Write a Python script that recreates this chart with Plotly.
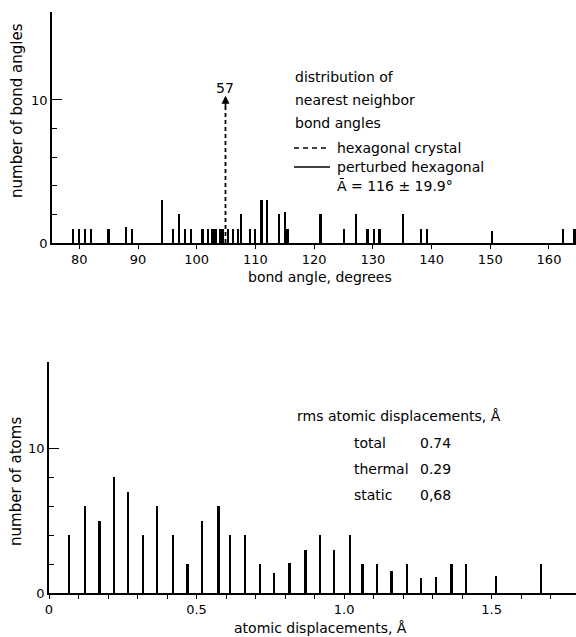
import plotly.graph_objects as go

# ---- data: bond angle distribution (top panel) ----
bond_angles = [79, 80, 81, 82, 85, 88, 89, 94, 96, 97, 98, 99,
               101, 101.9, 102.7, 102.95, 103.2, 103.9, 104.15, 104.4, 105.4,
               106.1, 107, 107.5, 109.1, 110, 111.1, 112, 114, 115, 115.5,
               121.1, 125.1, 127.1, 129.1, 130.2, 131.2, 135.2, 138.2, 139.2,
               150.3, 162.4, 164.4]
bond_counts = [1, 1, 1, 1, 1, 1.15, 1, 3, 1, 2, 1, 1,
               1, 1, 1, 1, 1, 1, 1, 1, 1,
               1, 1, 2, 1, 1, 3, 3, 2, 2.15, 1,
               2, 1, 2, 1, 1, 1, 2, 1, 1,
               0.85, 1, 1]
hex_angle = [104.9]
hex_count = [57]
hex_arrow_top = 10.3
bond_ticks = [80, 90, 100, 110, 120, 130, 140, 150, 160]

# ---- data: atomic displacement distribution (bottom panel) ----
displacements = [0.068, 0.122, 0.172, 0.220, 0.268, 0.320, 0.366, 0.420, 0.470,
                 0.520, 0.575, 0.615, 0.665, 0.715, 0.763, 0.816, 0.870, 0.919,
                 0.967, 1.020, 1.063, 1.112, 1.162, 1.213, 1.261, 1.312, 1.365,
                 1.414, 1.515, 1.668]
atom_counts = [4, 6, 5, 8, 7, 4, 6, 4, 2,
               5, 6, 4, 4, 2, 1.35, 2.1, 3, 4,
               3, 4, 2, 2, 1.5, 2, 1.05, 1.1, 2,
               2, 1.2, 2]
disp_ticks = [0, 0.5, 1.0, 1.5]
disp_ticktext = ["0", "0.5", "1.0", "1.5"]
disp_minor = [0.1, 0.2, 0.3, 0.4, 0.6, 0.7, 0.8, 0.9, 1.1, 1.2, 1.3, 1.4, 1.6, 1.7]
rms_labels = ["total", "thermal", "static"]
rms_values = ["0.74", "0.29", "0,68"]

W, H = 576, 637
FONT = "DejaVu Sans"
def px(x):
    return x / W
def py(y):
    return 1 - y / H

fig = go.Figure()
fig.add_trace(go.Bar(x=bond_angles, y=bond_counts, width=0.34,
                     marker=dict(color="black", line=dict(width=0)),
                     xaxis="x", yaxis="y", showlegend=False, cliponaxis=False))
fig.add_trace(go.Scatter(x=hex_angle * 2, y=[0, hex_arrow_top - 0.3], mode="lines",
                         line=dict(color="black", width=1.8, dash="4px,3px"),
                         xaxis="x", yaxis="y", showlegend=False))
fig.add_trace(go.Bar(x=displacements, y=atom_counts, width=0.0062,
                     marker=dict(color="black", line=dict(width=0)),
                     xaxis="x2", yaxis="y2", showlegend=False))

axis_common = dict(showgrid=False, zeroline=False, showline=True, linecolor="black",
                   linewidth=1.5, tickcolor="black", automargin=False,
                   tickfont=dict(family=FONT, size=13, color="black"))

fig.update_layout(
    width=W, height=H, margin=dict(l=0, r=0, t=0, b=0),
    paper_bgcolor="white", plot_bgcolor="white", bargap=0,
    xaxis=dict(domain=[px(52), 1], range=[75.35, 164.6], anchor="y",
               tickvals=bond_ticks, ticks="outside", ticklen=4, tickwidth=1.2,
               **axis_common),
    yaxis=dict(domain=[py(243), py(12)], range=[0, 16.15], anchor="x",
               tickvals=[0, 10], ticks="inside", ticklen=10, tickwidth=1.2,
               minor=dict(tickvals=[2, 4, 6, 8], ticks="inside", ticklen=5,
                          tickcolor="black", tickwidth=1),
               **axis_common),
    xaxis2=dict(domain=[px(49), 1], range=[0, 1.786], anchor="y2",
                tickvals=disp_ticks, ticktext=disp_ticktext, ticks="outside",
                ticklen=4, tickwidth=1.2,
                minor=dict(tickvals=disp_minor, ticks="outside", ticklen=4,
                           tickcolor="black", tickwidth=1),
                **axis_common),
    yaxis2=dict(domain=[py(593), py(362)], range=[0, 15.95], anchor="x2",
                tickvals=[0, 10], ticks="inside", ticklen=10, tickwidth=1.2,
                minor=dict(tickvals=[2, 4, 6, 8], ticks="inside", ticklen=5,
                           tickcolor="black", tickwidth=1),
                **axis_common),
)

ann = []
def text(x, y, s, xanchor="left", size=14, angle=0):
    ann.append(dict(x=px(x), y=py(y), xref="paper", yref="paper", text=s,
                    showarrow=False, xanchor=xanchor, yanchor="middle",
                    textangle=angle,
                    font=dict(family=FONT, size=size, color="black")))

# axis titles
text(320, 277, "bond angle, degrees", xanchor="center", size=14)
text(320, 628, "atomic displacements, Å", xanchor="center", size=14)
text(17, 111, "number of bond angles", xanchor="center", size=15, angle=-90)
text(16, 482, "number of atoms", xanchor="center", size=15, angle=-90)

# top panel notes
text(293, 77, "distribution of")
text(293, 100, "nearest neighbor")
text(293, 123, "bond angles")
text(335, 148, "hexagonal crystal")
text(335, 167, "perturbed hexagonal")
text(335, 186, "Ā = 116 ± 19.9°")
text(225, 88, str(hex_count[0]), xanchor="center", size=14)

# arrow head on the hexagonal crystal line
ann.append(dict(x=hex_angle[0], y=hex_arrow_top, xref="x", yref="y",
                ax=0, ay=12, showarrow=True, arrowhead=2, arrowsize=1,
                arrowwidth=1.6, arrowcolor="black", text=""))

# bottom panel notes
text(295, 416, "rms atomic displacements, Å")
ys = [443, 469, 495]
for lab, val, yy in zip(rms_labels, rms_values, ys):
    text(352, yy, lab)
    text(418, yy, val)

fig.update_layout(annotations=ann)

# legend line samples
fig.add_shape(type="line", xref="paper", yref="paper", x0=px(294), x1=px(330),
              y0=py(148), y1=py(148), line=dict(color="black", width=1.5, dash="5px,4px"))
fig.add_shape(type="line", xref="paper", yref="paper", x0=px(294), x1=px(330),
              y0=py(167), y1=py(167), line=dict(color="black", width=1.5))

fig.write_html("out.html", config={"displayModeBar": False},
               post_script="document.body.style.margin='0';document.body.style.padding='0';")
